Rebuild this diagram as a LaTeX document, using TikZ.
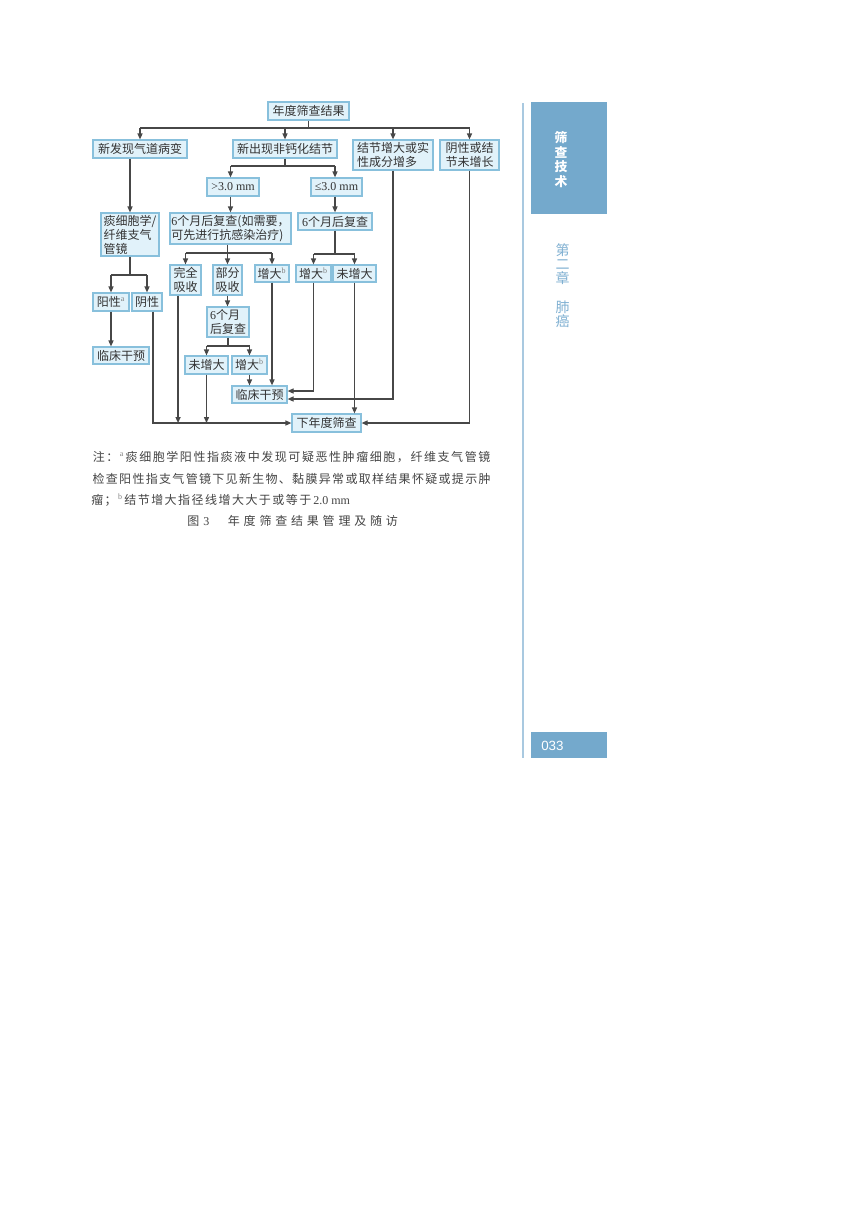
\documentclass[tikz,border=0pt]{standalone}
\usepackage{fontspec}
\setmainfont{Noto Sans CJK SC}
\newfontfamily\num{Liberation Serif}
\newfontfamily\lsans{Liberation Sans}
\usetikzlibrary{arrows.meta}
\definecolor{boxfill}{HTML}{E1F2FA}
\definecolor{boxdraw}{HTML}{88C0DC}
\definecolor{txt}{HTML}{333333}
\definecolor{lncol}{HTML}{474747}
\definecolor{sideblue}{HTML}{74A9CC}
\definecolor{sideline}{HTML}{A9C9E0}
\definecolor{chap}{HTML}{7FB0D2}
\definecolor{notecol}{HTML}{444444}
\makeatletter
\newcommand\spreadline[2]{\makebox[#1]{\@tfor\spr@c:=#2\do{\spr@c\hfil}\unskip}}
\newcommand\trackline[2]{\@tfor\spr@c:=#2\do{\spr@c\hspace{#1}}\unskip}
\makeatother
\newcommand\supa{\textsuperscript{\num\color{gray}a}}
\newcommand\supb{\textsuperscript{\num\color{gray}b}}
\newcommand\mybox[6]{\node[box,minimum width={(#4-#2)*0.75pt},minimum height={(#5-#3)*0.75pt}] (#1) at ({(#2+#4)/2},{(#3+#5)/2}) {#6};}
\tikzset{
  box/.style={draw=boxdraw,fill=boxfill,line width=0.9pt,inner sep=1pt,text=txt,
    font=\fontsize{9}{10.5}\selectfont,align=left},
  ln/.style={draw=lncol,line width=0.9pt},
  arr/.style={ln,-{Triangle[length=4.5pt,width=3.8pt]}},
}
\begin{document}
\begin{tikzpicture}[x=0.75pt,y=-0.75pt]
\useasboundingbox[fill=white] (0,0) rectangle (867,1218);

% ---- boxes
\mybox{top}{268}{102}{349}{120}{年度筛查结果}
\mybox{a1}{93}{140}{187}{158}{新发现气道病变}
\mybox{a2}{233}{140}{337}{158}{新出现非钙化结节}
\mybox{a3}{353}{140}{433}{170}{结节增大或实\\性成分增多}
\mybox{a4}{440}{140}{499}{170}{阴性或结\\节未增长}
\mybox{b1}{207}{178}{259}{196}{\num >3.0 mm}
\mybox{b2}{311}{178}{362}{196}{\num ≤3.0 mm}
\mybox{c1}{170}{213}{291}{244}{{\num 6}个月后复查(如需要，\\可先进行抗感染治疗)}
\mybox{c2}{298}{213}{372}{230}{{\num 6}个月后复查}
\mybox{s1}{101}{213}{159}{256}{痰细胞学/\\纤维支气\\管镜}
\mybox{d1}{93}{293}{129}{311}{阳性\supa}
\mybox{d2}{132}{293}{162}{311}{阴性}
\mybox{e1}{93}{347}{149}{364}{临床干预}
\mybox{f1}{170}{265}{201}{295}{完全\\吸收}
\mybox{f2}{213}{265}{242}{295}{部分\\吸收}
\mybox{f3}{255}{265}{289}{282}{增大\supb}
\mybox{f4}{296}{265}{331}{282}{增大\supb}
\mybox{f5}{333}{265}{376}{282}{未增大}
\mybox{g1}{207}{307}{249}{337}{{\num 6}个月\\后复查}
\mybox{h1}{185}{356}{228}{374}{未增大}
\mybox{h2}{232}{356}{267}{374}{增大\supb}
\mybox{i1}{232}{386}{287}{403}{临床干预}
\mybox{j1}{292}{414}{361}{432}{下年度筛查}

% ---- bus coordinates
\coordinate (yT) at (0,128);
\coordinate (yM) at (0,166);
\coordinate (yN) at (0,253);
\coordinate (yR) at (0,254);
\coordinate (yS) at (0,275);
\coordinate (yG) at (0,346);
\coordinate (q1) at (0,391);
\coordinate (q2) at (0,399);

% top level
\draw[ln] (top.south) -- (top.south |- yT);
\draw[ln] (a1.north |- yT) -- (a4.north |- yT);
\draw[arr] (a1.north |- yT) -- (a1.north);
\draw[arr] (a2.north |- yT) -- (a2.north);
\draw[arr] (a3.north |- yT) -- (a3.north);
\draw[arr] (a4.north |- yT) -- (a4.north);

% airway branch
\draw[arr] (a1.south -| s1.north) -- (s1.north);
\draw[ln] (s1.south) -- (s1.south |- yS);
\draw[ln] (d1.north |- yS) -- (d2.north |- yS);
\draw[arr] (d1.north |- yS) -- (d1.north);
\draw[arr] (d2.north |- yS) -- (d2.north);
\draw[arr] (d1.south) -- (d1.south |- e1.north);

% nodule branch
\draw[ln] (a2.south) -- (a2.south |- yM);
\draw[ln] (c1.north |- yM) -- (c2.north |- yM);
\draw[arr] (c1.north |- yM) -- (c1.north |- b1.north);
\draw[arr] (c2.north |- yM) -- (c2.north |- b2.north);
\draw[arr] (c1.north |- b1.south) -- (c1.north);
\draw[arr] (c2.north |- b2.south) -- (c2.north);

\draw[ln] (c1.south -| f2.north) -- (f2.north |- yN);
\draw[ln] (f1.north |- yN) -- (f3.north |- yN);
\draw[arr] (f1.north |- yN) -- (f1.north);
\draw[arr] (f2.north |- yN) -- (f2.north);
\draw[arr] (f3.north |- yN) -- (f3.north);

\draw[ln] (c2.south) -- (c2.south |- yR);
\draw[ln] (f4.north |- yR) -- (f5.north |- yR);
\draw[arr] (f4.north |- yR) -- (f4.north);
\draw[arr] (f5.north |- yR) -- (f5.north);

\draw[arr] (f2.south) -- (f2.south |- g1.north);
\draw[ln] (g1.south) -- (g1.south |- yG);
\draw[ln] (h1.north |- yG) -- (h2.north |- yG);
\draw[arr] (h1.north |- yG) -- (h1.north);
\draw[arr] (h2.north |- yG) -- (h2.north);

% to clinical intervention
\draw[arr] (h2.south) -- (h2.south |- i1.north);
\draw[arr] (f3.south) -- (f3.south |- i1.north);
\draw[arr] (f4.south) |- (i1.east |- q1);
\draw[arr] (a3.south) |- (i1.east |- q2);

% to next-year screening
\draw[arr] (f5.south) -- (f5.south |- j1.north);
\draw[arr] ([xshift=4.5pt]d2.south) |- (j1.west);
\draw[arr] ([xshift=-5.6pt]f1.south) -- ([xshift=-5.6pt]f1.south |- j1.west);
\draw[arr] (h1.south) -- (h1.south |- j1.west);
\draw[arr] (a4.south) |- (j1.east);

% ---- notes
\begin{scope}[every node/.style={anchor=west,inner sep=0pt,text=notecol,font=\fontsize{9}{10}\selectfont}]
\node (n1) at (91,457) {\spreadline{300.5pt}{注：{\supa}痰细胞学阳性指痰液中发现可疑恶性肿瘤细胞，纤维支气管镜}};
\node (n2) at (91,479) {\spreadline{300.5pt}{检查阳性指支气管镜下见新生物、黏膜异常或取样结果怀疑或提示肿}};
\node (n3) at (91,500) {\trackline{1.1pt}{瘤；{\supb}结节增大指径线增大大于或等于}\hspace{1.5pt}{\num 2.0 mm}};
\end{scope}
\node[anchor=west,inner sep=0pt,text=notecol,font=\fontsize{9}{10}\selectfont] (cap) at (187,521)
  {图\hspace{3pt}{\num 3}\hspace{14pt}\makebox[127.5pt]{年\hfill 度\hfill 筛\hfill 查\hfill 结\hfill 果\hfill 管\hfill 理\hfill 及\hfill 随\hfill 访}};

% ---- sidebar
\draw[draw=sideline,line width=1.2pt] (523,103) coordinate (sl1) -- (523,758) coordinate (sl2);
\node[fill=sideblue,inner sep=0pt,minimum width={76*0.75pt},minimum height={112*0.75pt}] (sidebox) at (569,158) {};
\node[text=white,font=\bfseries\fontsize{9.6}{10.9}\selectfont,align=center,inner sep=0pt] (sidetxt) at (561,159.5) {筛\\查\\技\\术};
\node[text=chap,font=\fontsize{10.5}{10.6}\selectfont,align=center,inner sep=0pt] (chaptxt) at (562.5,285.5) {第\\二\\章\\[10.6pt]肺\\癌};
\node[fill=sideblue,inner sep=0pt,minimum width={76*0.75pt},minimum height={26*0.75pt}] (pgbox) at (569,745) {};
\node[anchor=west,text=white,font=\lsans\fontsize{10}{12}\selectfont,inner sep=0pt] (pgnum) at (541,745.5) {033};
\end{tikzpicture}
\end{document}
